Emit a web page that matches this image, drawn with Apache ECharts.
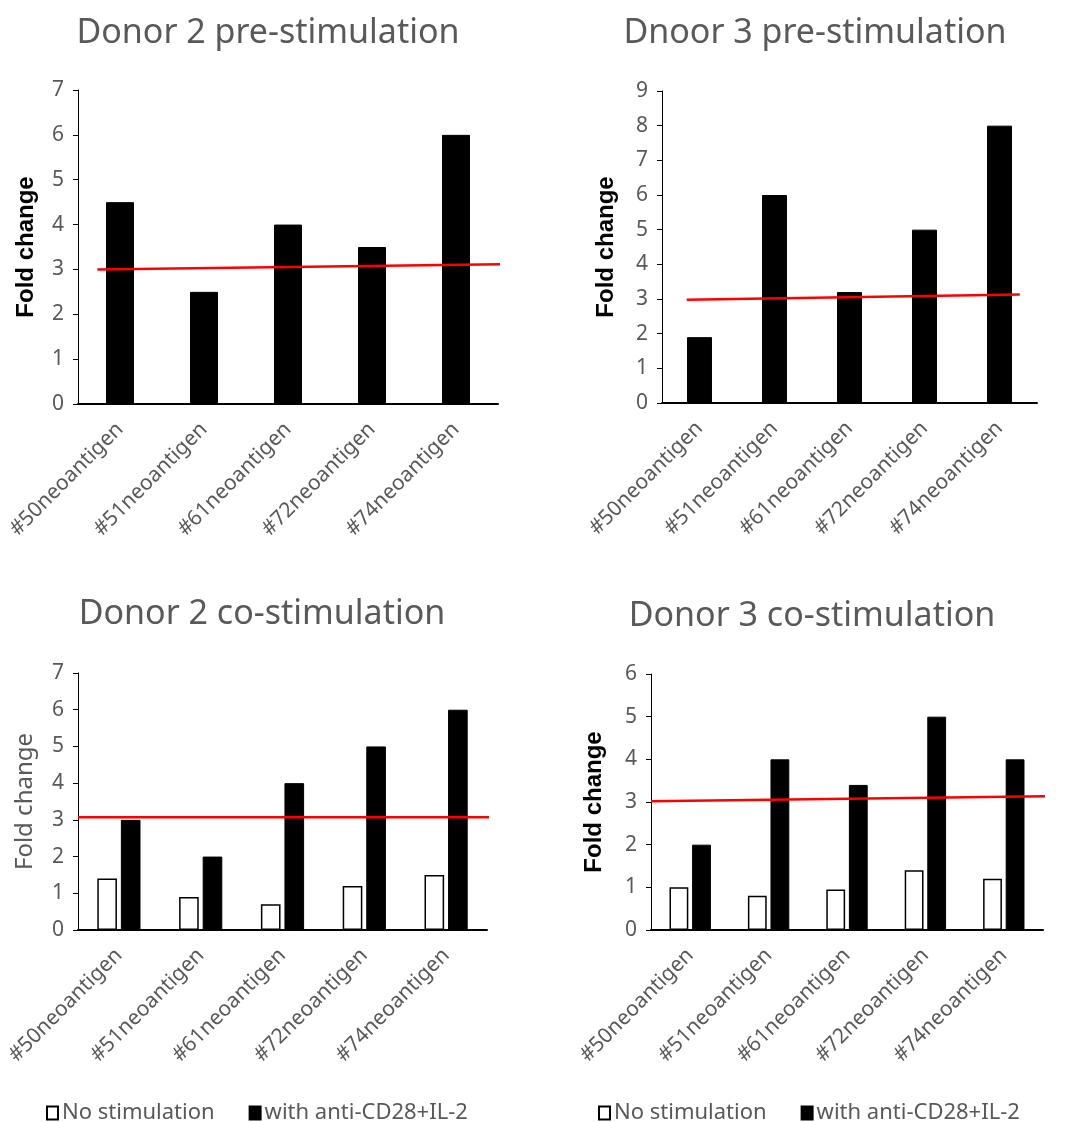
<!DOCTYPE html>
<html>
<head>
<meta charset="utf-8">
<title>Fold change by neoantigen</title>
<script src="https://cdn.jsdelivr.net/npm/echarts@6/dist/echarts.min.js"></script>
<style>
  html, body { margin: 0; padding: 0; background: #fff; }
  #chart { width: 1066px; height: 1122px; }
</style>
</head>
<body>
<div id="chart"></div>
<script>
// Neoantigen categories shared by all four panels
const categories = ['#50neoantigen', '#51neoantigen', '#61neoantigen', '#72neoantigen', '#74neoantigen'];

// Panel titles
const panelTitles = ['Donor 2 pre-stimulation', 'Dnoor 3 pre-stimulation', 'Donor 2 co-stimulation', 'Donor 3 co-stimulation'];

// Fold change values
const donor2Pre = [4.5, 2.5, 4, 3.5, 6];
const donor3Pre = [1.9, 6, 3.2, 5, 8];
const donor2NoStim = [1.4, 0.9, 0.7, 1.2, 1.5];
const donor2CoStim = [3, 2, 4, 5, 6];
const donor3NoStim = [1, 0.8, 0.95, 1.4, 1.2];
const donor3CoStim = [2, 4, 3.4, 5, 4];

// Y axis upper bounds per panel
const yMax = [7, 9, 7, 6];

// Red threshold line per panel: x in category units (0..5 spans the plot), y in fold change
const thresholdX = [[0.23, 5.52], [0.33, 4.77], [0, 5.13], [0, 5.29]];
const thresholdY = [[3.0, 3.13], [2.98, 3.13], [3.07, 3.07], [3.02, 3.14]];

const seriesNames = ['No stimulation', 'with anti-CD28+IL-2'];

const GRAY = '#595959';
const SANS = '"Noto Sans", "Noto Sans CJK SC", sans-serif';

const grids = [
  { left: 78, top: 90, width: 420, height: 314 },
  { left: 662, top: 91, width: 375, height: 312 },
  { left: 78, top: 673, width: 409, height: 257 },
  { left: 651, top: 674, width: 392, height: 256 }
];

const titlePos = [
  { x: 263, y: 11 },
  { x: 810, y: 11 },
  { x: 257, y: 592 },
  { x: 807, y: 594 }
];

// Y axis name styling: bold black except the lower-left panel
const yNameStyles = [
  { bold: true, gap: 40 },
  { bold: true, gap: 44 },
  { bold: false, gap: 41 },
  { bold: true, gap: 45 }
];

const xAxes = [];
const yAxes = [];
const series = [];

grids.forEach((g, i) => {
  // category axis
  xAxes.push({
    type: 'category',
    gridIndex: i,
    data: categories,
    axisLine: { show: true, lineStyle: { color: '#000', width: 2 } },
    axisTick: { show: false },
    axisLabel: {
      rotate: 45,
      color: GRAY,
      fontFamily: SANS,
      fontSize: 21,
      margin: 22,
      interval: 0
    }
  });
  // hidden value axis carrying the threshold line
  xAxes.push({
    type: 'value',
    gridIndex: i,
    min: 0,
    max: 5,
    show: false
  });
  const ns = yNameStyles[i];
  yAxes.push({
    type: 'value',
    gridIndex: i,
    min: 0,
    max: yMax[i],
    interval: 1,
    name: 'Fold change',
    nameLocation: 'middle',
    nameGap: ns.gap,
    nameTextStyle: ns.bold
      ? { color: '#000', fontWeight: 'bold', fontSize: 24, fontFamily: '"Liberation Sans", Arial, sans-serif' }
      : { color: GRAY, fontWeight: 'normal', fontSize: 24, fontFamily: SANS },
    axisLine: { show: true, lineStyle: { color: '#000', width: 1 } },
    axisTick: { show: true, length: 5, lineStyle: { color: '#000' } },
    splitLine: { show: false },
    axisLabel: { color: GRAY, fontFamily: SANS, fontSize: 21, margin: 14 }
  });
});

const blackBar = { color: '#000', borderColor: '#000', borderWidth: 1 };
const whiteBar = { color: '#fff', borderColor: '#000', borderWidth: 1.5 };

// Upper panels: single black series
[donor2Pre, donor3Pre].forEach((vals, i) => {
  series.push({
    name: seriesNames[1],
    type: 'bar',
    xAxisIndex: i * 2,
    yAxisIndex: i,
    data: vals,
    barWidth: '33.3%',
    itemStyle: blackBar
  });
});

// Lower panels: paired bars
[[donor2NoStim, donor2CoStim], [donor3NoStim, donor3CoStim]].forEach((pair, k) => {
  const i = k + 2;
  series.push({
    name: seriesNames[0],
    type: 'bar',
    xAxisIndex: i * 2,
    yAxisIndex: i,
    data: pair[0],
    barWidth: '24%',
    barGap: '20%',
    itemStyle: whiteBar
  });
  series.push({
    name: seriesNames[1],
    type: 'bar',
    xAxisIndex: i * 2,
    yAxisIndex: i,
    data: pair[1],
    barWidth: '24%',
    barGap: '20%',
    itemStyle: blackBar
  });
});

// Red threshold lines
grids.forEach((g, i) => {
  series.push({
    type: 'line',
    xAxisIndex: i * 2 + 1,
    yAxisIndex: i,
    data: [[thresholdX[i][0], thresholdY[i][0]], [thresholdX[i][1], thresholdY[i][1]]],
    symbol: 'none',
    clip: false,
    silent: true,
    lineStyle: { color: '#ff0000', width: 2.5 },
    z: 5
  });
});

const titles = panelTitles.map((t, i) => ({
  text: t,
  left: titlePos[i].x,
  top: titlePos[i].y,
  textAlign: 'center',
  textStyle: { color: GRAY, fontSize: 34, fontWeight: 'normal', fontFamily: SANS }
}));

const legendBase = {
  data: seriesNames,
  top: 1097,
  icon: 'rect',
  itemWidth: 11,
  itemHeight: 13,
  itemGap: 34,
  textStyle: { color: GRAY, fontSize: 22, fontFamily: SANS, padding: [0, 0, 0, -1] },
  selectedMode: false
};

const option = {
  animation: false,
  backgroundColor: '#fff',
  title: titles,
  grid: grids,
  xAxis: xAxes,
  yAxis: yAxes,
  legend: [
    Object.assign({}, legendBase, { left: 41 }),
    Object.assign({}, legendBase, { left: 593 })
  ],
  series: series
};

const chart = echarts.init(document.getElementById('chart'), null, { renderer: 'canvas' });
chart.setOption(option);
</script>
</body>
</html>
